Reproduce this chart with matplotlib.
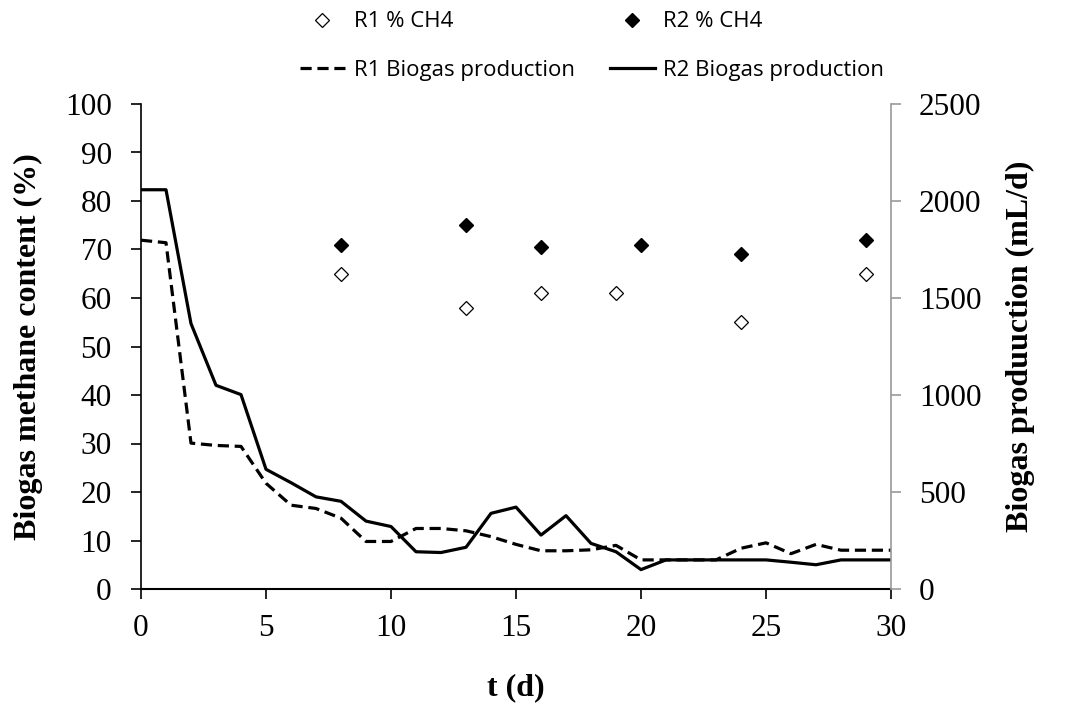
import matplotlib.pyplot as plt

# data
days = list(range(0, 31))
r1_biogas = [1798, 1785, 752, 740, 735, 545, 432, 415, 365, 245, 245, 312, 312,
             300, 270, 230, 197, 197, 202, 225, 150, 150, 150, 150, 210, 238,
             182, 230, 200, 200, 200]
r2_biogas = [2058, 2058, 1368, 1050, 1002, 617, 548, 475, 452, 350, 322, 192, 188,
             215, 390, 422, 278, 378, 235, 192, 100, 150, 150, 150, 150, 150,
             138, 125, 150, 150, 150]
ch4_days_r1 = [8, 13, 16, 19, 24, 29]
r1_ch4 = [65, 58, 61, 61, 55, 65]
ch4_days_r2 = [8, 13, 16, 20, 24, 29]
r2_ch4 = [71, 75, 70.5, 71, 69, 72]

serif = ['Liberation Serif', 'DejaVu Serif']
sans = ['Open Sans', 'DejaVu Sans']

fig = plt.figure(figsize=(10.77, 7.09), dpi=100)
ax1 = fig.add_axes([141 / 1077, 1 - 589 / 709, 750 / 1077, 485 / 709])
ax2 = ax1.twinx()

h1, = ax1.plot(ch4_days_r1, r1_ch4, linestyle='none', marker='D', markersize=7.5,
               markerfacecolor='white', markeredgecolor='black', markeredgewidth=0.9)
h2, = ax1.plot(ch4_days_r2, r2_ch4, linestyle='none', marker='D', markersize=7.5,
               color='black')
h3, = ax2.plot(days, r1_biogas, color='black', linestyle=(0, (3.5, 1.8)), linewidth=2.3)
h4, = ax2.plot(days, r2_biogas, color='black', linewidth=2.3)

ax1.set_xlim(0, 30)
ax1.set_ylim(0, 100)
ax2.set_ylim(0, 2500)
ax1.set_xticks(range(0, 31, 5))
ax1.set_yticks(range(0, 101, 10))
ax2.set_yticks(range(0, 2501, 500))

for ax in (ax1, ax2):
    ax.spines['top'].set_visible(False)
ax1.spines['right'].set_visible(False)
ax2.spines['left'].set_visible(False)
ax2.spines['bottom'].set_visible(False)
ax1.spines['left'].set_linewidth(1.2)
ax1.spines['bottom'].set_linewidth(1.5)
ax2.spines['right'].set_color('#999999')
ax2.spines['right'].set_linewidth(1.2)

ax1.tick_params(axis='y', direction='out', length=7, width=1.2, labelsize=22.5, pad=14)
ax1.tick_params(axis='x', direction='out', length=7, width=1.2, labelsize=22.5, pad=11)
ax2.tick_params(axis='y', direction='out', length=7, width=1.2, color='#999999',
                labelsize=22.5, pad=13)
for lab in ax1.get_xticklabels() + ax1.get_yticklabels() + ax2.get_yticklabels():
    lab.set_family(serif)

ax1.set_xlabel('t (d)', family=serif, fontsize=23, fontweight='bold', labelpad=22)
ax1.set_ylabel('Biogas methane content (%)', family=serif, fontsize=23,
               fontweight='bold', labelpad=16)
ax2.set_ylabel('Biogas produuction (mL/d)', family=serif, fontsize=23,
               fontweight='bold', labelpad=18)

fig.legend([h1, h3, h2, h4],
           ['R1 % CH4', 'R1 Biogas production', 'R2 % CH4', 'R2 Biogas production'],
           loc='upper center', bbox_to_anchor=(0.55, 1.012), ncol=2, frameon=False,
           prop={'family': sans, 'size': 16}, handlelength=2.0, columnspacing=1.6,
           labelspacing=1.25, handletextpad=0.4)

fig.savefig('out.png', dpi=100)
